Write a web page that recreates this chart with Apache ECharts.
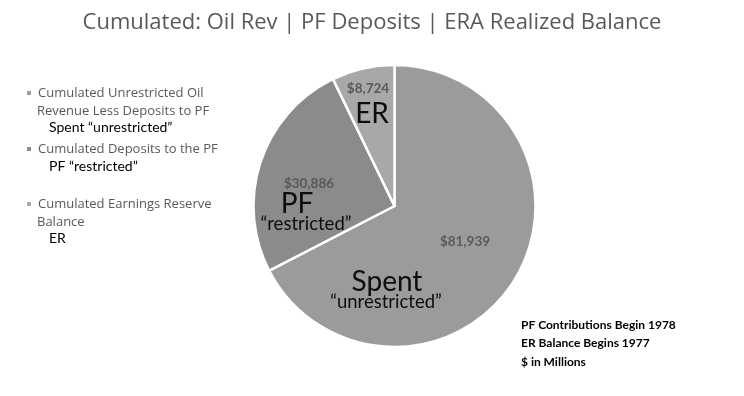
<!DOCTYPE html>
<html>
<head>
<meta charset="utf-8">
<script src="https://cdn.jsdelivr.net/npm/echarts@6/dist/echarts.min.js"></script>
<style>html,body{margin:0;padding:0;background:#fff;}#c{width:744px;height:396px;}</style>
</head>
<body>
<div id="c"></div>
<script>
const titleText = 'Cumulated: Oil Rev | PF Deposits | ERA Realized Balance';
const categories = [
  'Cumulated Unrestricted Oil Revenue Less Deposits to PF',
  'Cumulated Deposits to the PF',
  'Cumulated Earnings Reserve Balance'
];
const values = [81939, 30886, 8724];
const legendFirstLines = ['Cumulated Unrestricted Oil', 'Cumulated Deposits to the PF', 'Cumulated Earnings Reserve'];
const legendSecondLines = ['Revenue Less Deposits to PF', '', 'Balance'];
const legendNotes = ['Spent \u201cunrestricted\u201d', 'PF \u201crestricted\u201d', 'ER'];
const sliceNames = ['Spent', 'PF', 'ER'];
const sliceSubNames = ['\u201cunrestricted\u201d', '\u201crestricted\u201d', ''];
const footnotes = ['PF Contributions Begin 1978', 'ER Balance Begins 1977', '$ in Millions'];

// styling / layout (not data)
const colors = ['#9b9b9b', '#8b8b8b', '#a8a8a8'];
const legendTops = [85, 141, 196];
const valueLabelPos = [[465, 242], [309, 184], [368, 89]];
const namePos = [[387, 282], [297, 204], [372, 114]];
const subNamePos = [[386, 302], [306, 224], null];
const gray = '#595959';

const fmt = v => '$' + v.toLocaleString('en-US');

const chart = echarts.init(document.getElementById('c'), null, {renderer: 'canvas'});

const legends = categories.map((name, i) => ({
  orient: 'vertical',
  left: 25,
  top: legendTops[i],
  padding: 0,
  itemWidth: 6,
  itemHeight: 6,
  itemGap: 0,
  icon: 'rect',
  selectedMode: false,
  data: [name],
  formatter: () => legendFirstLines[i],
  textStyle: {color: gray, fontSize: 13, fontFamily: 'Open Sans', lineHeight: 16, padding: [0, 0, 0, 1]}
}));

const graphics = [];
categories.forEach((name, i) => {
  const top = legendTops[i] + 8;
  if (legendSecondLines[i]) {
    graphics.push({type: 'text', x: 37, y: top + 18, z: 100,
      style: {text: legendSecondLines[i], fill: gray, font: '13px "Open Sans"', verticalAlign: 'middle'}});
  }
  const noteY = legendSecondLines[i] ? top + 34 : top + 17;
  graphics.push({type: 'text', x: 49, y: noteY, z: 100,
    style: {text: legendNotes[i], fill: '#000', font: '14px Lato', verticalAlign: 'middle'}});
});
sliceNames.forEach((n, i) => {
  graphics.push({type: 'text', x: namePos[i][0], y: namePos[i][1], z: 100,
    style: {text: n, fill: '#0d0d0d', font: '28px Lato', align: 'center', verticalAlign: 'middle'}});
  if (subNamePos[i]) {
    graphics.push({type: 'text', x: subNamePos[i][0], y: subNamePos[i][1], z: 100,
      style: {text: sliceSubNames[i], fill: '#0d0d0d', font: '18.5px Lato', align: 'center', verticalAlign: 'middle'}});
  }
});
footnotes.forEach((t, i) => {
  graphics.push({type: 'text', x: 521, y: 325 + i * 18.5, z: 100,
    style: {text: t, fill: '#000', font: 'bold 12px Lato', align: 'left', verticalAlign: 'middle'}});
});

chart.setOption({
  animation: false,
  backgroundColor: '#fff',
  color: colors,
  title: {
    text: titleText, left: 'center', top: 7,
    textStyle: {color: gray, fontSize: 22, fontWeight: 'normal', fontFamily: 'Open Sans'}
  },
  legend: legends,
  series: [{
    type: 'pie',
    center: [394.5, 206],
    radius: [0, 141],
    startAngle: 90,
    clockwise: true,
    silent: true,
    itemStyle: {borderColor: '#fff', borderWidth: 2.5},
    label: {
      show: true, position: 'inside',
      formatter: p => fmt(p.value),
      color: gray, fontSize: 13.5, fontWeight: 'bold', fontFamily: 'Lato'
    },
    labelLine: {show: false},
    labelLayout: p => ({x: valueLabelPos[p.dataIndex][0], y: valueLabelPos[p.dataIndex][1], align: 'center', verticalAlign: 'middle'}),
    data: categories.map((c, i) => ({name: c, value: values[i]}))
  }],
  graphic: graphics
});
</script>
</body>
</html>
